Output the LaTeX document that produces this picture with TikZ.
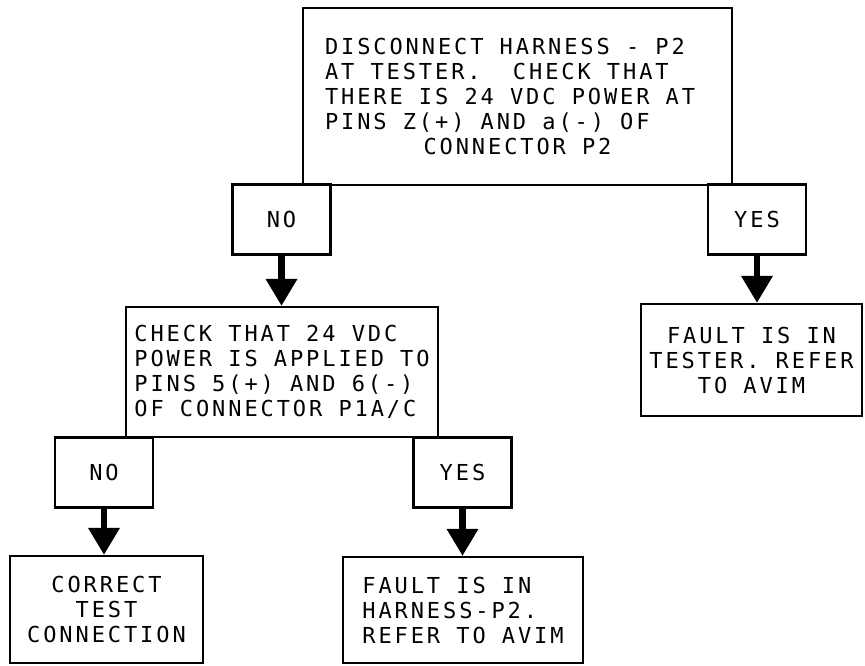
\documentclass[tikz,border=0pt]{standalone}
\usepackage{fontspec}
\setmonofont[LetterSpace=13.2]{DejaVu Sans Mono}
\usetikzlibrary{arrows.meta}
\newcommand{\flowfont}{\ttfamily\fontsize{22}{25}\selectfont\frenchspacing}

\begin{document}
\begin{tikzpicture}[x=1pt,y=-1pt,
		box/.style={draw,line width=2.2pt,inner sep=0pt,font=\flowfont},
		answer/.style={box,minimum width=98pt,minimum height=70pt},
		flow/.style={line width=6.5pt,-{Triangle[length=27pt,width=30pt]}}]
	\useasboundingbox (0,0) rectangle (865,665);
	% first check and its answers
	\node[box,minimum width=429pt,minimum height=177pt,text width=385pt,align=flush left] (harness) at (517.5,96.5)
		{DISCONNECT HARNESS - P2\\ AT TESTER.~~CHECK THAT\\ THERE IS 24 VDC POWER AT\\ PINS Z(+) AND a(-) OF\par
		{\centering CONNECTOR P2\par}};
	\node[answer] (no1) at (281.5,219.5) {NO};
	\node[answer] (yes1) at (757,219.5) {YES};
	% second check
	\node[box,minimum width=312pt,minimum height=130pt,align=left] (power) at (282,372)
		{CHECK THAT 24 VDC\\ POWER IS APPLIED TO\\ PINS 5(+) AND 6(-)\\ OF CONNECTOR P1A/C};
	\node[box,minimum width=221pt,minimum height=112pt,align=center] (tester) at (751.5,360)
		{FAULT IS IN\\ TESTER. REFER\\ TO AVIM};
	\node[answer] (no2) at (104,472.5) {NO};
	\node[answer] (yes2) at (462.5,472.5) {YES};
	% results
	\node[box,minimum width=193pt,minimum height=107pt,align=center] (correct) at (106.5,609.5)
		{CORRECT\\ TEST\\ CONNECTION};
	\node[box,minimum width=240pt,minimum height=106pt,align=left] (fault) at (463,610)
		{FAULT IS IN\\ HARNESS-P2.\\ REFER TO AVIM};
	% arrows
	\draw[flow] (no1.south) -- (no1.south |- power.north);
	\draw[flow] (yes1.south) -- (yes1.south |- tester.north);
	\draw[flow] (no2.south) -- (no2.south |- correct.north);
	\draw[flow] (yes2.south) -- (yes2.south |- fault.north);
\end{tikzpicture}
\end{document}
